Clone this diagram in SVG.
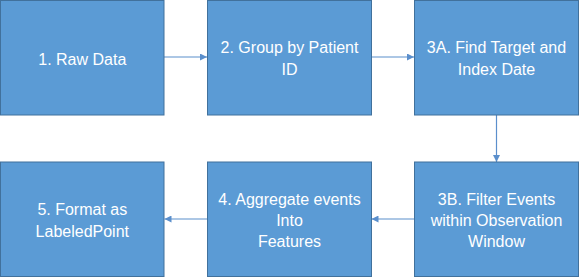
<svg xmlns="http://www.w3.org/2000/svg" width="579" height="277" viewBox="0 0 579 277">
<style>
.box{fill:#5B9BD5;stroke:#41719C;stroke-width:1}
.lbl{font-family:"Liberation Sans",Arial,sans-serif;font-size:16px;fill:#FFFFFF;text-anchor:middle}
.conn{stroke:#5B8FCC;stroke-width:1.2;fill:none;marker-end:url(#ah)}
</style>
<defs>
<marker id="ah" viewBox="0 0 10 10" refX="10" refY="5" markerWidth="8" markerHeight="7" markerUnits="userSpaceOnUse" orient="auto">
<path d="M0,0 L10,5 L0,10 z" fill="#5B8FCC"/>
</marker>
</defs>
<rect width="579" height="277" fill="#FFFFFF"/>
<g id="connectors">
<line class="conn" x1="164" y1="57" x2="207" y2="57"/>
<line class="conn" x1="371.5" y1="57" x2="414" y2="57"/>
<line class="conn" x1="496.5" y1="115" x2="496.5" y2="162"/>
<line class="conn" x1="414" y1="219" x2="371.5" y2="219"/>
<line class="conn" x1="207.5" y1="219" x2="164.5" y2="219"/>
</g>
<g id="n1">
<rect class="box" x="0.5" y="0.5" width="163.5" height="114.5"/>
<text class="lbl" x="82.3" y="64.5">1. Raw Data</text>
</g>
<g id="n2">
<rect class="box" x="207.5" y="0.5" width="164" height="114.5"/>
<text class="lbl" x="289.5" y="53">2. Group by Patient</text>
<text class="lbl" x="289.5" y="75">ID</text>
</g>
<g id="n3a">
<rect class="box" x="414.5" y="0.5" width="164" height="114.5"/>
<text class="lbl" x="496.5" y="53">3A. Find Target and</text>
<text class="lbl" x="496.5" y="75">Index Date</text>
</g>
<g id="n3b">
<rect class="box" x="414.5" y="162" width="164" height="114.5"/>
<text class="lbl" x="496.5" y="205">3B. Filter Events</text>
<text class="lbl" x="496.5" y="226">within Observation</text>
<text class="lbl" x="496.5" y="247">Window</text>
</g>
<g id="n4">
<rect class="box" x="207.5" y="162" width="164" height="114.5"/>
<text class="lbl" x="289.5" y="205">4. Aggregate events</text>
<text class="lbl" x="289.5" y="226">Into</text>
<text class="lbl" x="289.5" y="247">Features</text>
</g>
<g id="n5">
<rect class="box" x="0.5" y="162" width="163.5" height="114.5"/>
<text class="lbl" x="82.3" y="215">5. Format as</text>
<text class="lbl" x="82.3" y="236.5">LabeledPoint</text>
</g>
</svg>
